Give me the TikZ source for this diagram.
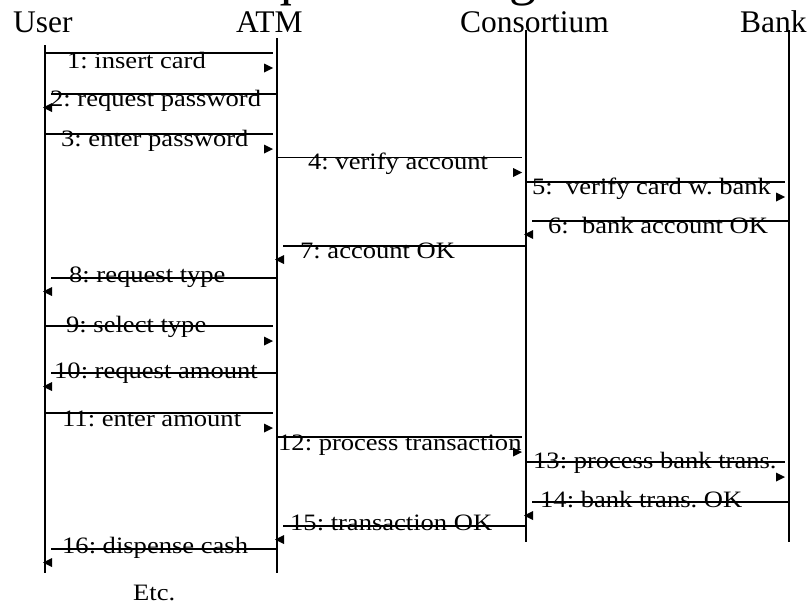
\documentclass[tikz,border=0pt]{standalone}
\usepackage{fontspec}
\setmainfont{Liberation Serif}
\newfontfamily\lblfont[FakeStretch=1.13]{Liberation Serif}
\usetikzlibrary{calc}

\tikzset{
  lifeline/.style={line width=1.8pt, line cap=butt},
  msgline/.style={line width=1.6pt},
  tipfill/.style={fill=black},
  header/.style={anchor=base west, inner sep=0pt, font=\fontsize{31.5}{36}\selectfont},
  lbl/.style={anchor=base west, inner sep=0pt, font={\lblfont\fontsize{23.5}{28}\selectfont\frenchspacing}},
}

% #1 sender, #2 receiver, #3 height of the line, #4 label x, #5 label baseline, #6 label, #7 number
\newcommand\callright[7]{%
  \path (0,#3) coordinate (m#7);
  \draw[msgline] (#1 |- m#7) -- ($(#2 |- m#7)+(-4,0)$);
  \fill[tipfill] ($(#2 |- m#7)+(-4,15)$) -- ++(-9,4.5) -- ++(0,-9) -- cycle;
  \node[lbl] (lbl#7) at (#4,#5) {#6};
}
\newcommand\callleft[7]{%
  \path (0,#3) coordinate (m#7);
  \draw[msgline] (#1 |- m#7) -- ($(#2 |- m#7)+(6,0)$);
  \fill[tipfill] ($(#2 |- m#7)+(-2,13.5)$) -- ++(9,-4.5) -- ++(0,9) -- cycle;
  \node[lbl] (lbl#7) at (#4,#5) {#6};
}

\begin{document}
\begin{tikzpicture}[x=1pt, y=-1pt]
\useasboundingbox (0,0) rectangle (811,605);

% title, running off the top edge
\node[anchor=base west, inner sep=0pt, font=\fontsize{54}{60}\selectfont] (title) at (211,-5.5) {Sequence Diagram};

% objects
\node[header] (hUser) at (13,32) {User};
\node[header] (hATM) at (236,32) {ATM};
\node[header] (hCons) at (460,32) {Consortium};
\node[header] (hBank) at (740,32) {Bank};

\coordinate (user) at (45,45);
\coordinate (atm) at (277,38);
\coordinate (cons) at (526,30);
\coordinate (bank) at (789,30);
\coordinate (userEnd) at (45,573);
\coordinate (atmEnd) at (277,573);
\coordinate (consEnd) at (526,542);
\coordinate (bankEnd) at (789,542);

\draw[lifeline] (user) -- (userEnd);
\draw[lifeline] (atm) -- (atmEnd);
\draw[lifeline] (cons) -- (consEnd);
\draw[lifeline] (bank) -- (bankEnd);

% messages
\callright{user}{atm}{53}{67}{68}{1: insert card}{1}
\callleft{atm}{user}{94}{50}{106}{2: request password}{2}
\callright{user}{atm}{134}{61}{146}{3: enter password}{3}
\callright{atm}{cons}{157.5}{308}{169}{4: verify account}{4}
\callright{cons}{bank}{182}{532}{194}{5:\ \ verify card w. bank}{5}
\callleft{bank}{cons}{221}{548}{233}{6:\ \ bank account OK}{6}
\callleft{cons}{atm}{246}{300}{258}{7: account OK}{7}
\callleft{atm}{user}{278}{69}{282}{8: request type}{8}
\callright{user}{atm}{326}{66}{332}{9: select type}{9}
\callleft{atm}{user}{373}{54}{378}{10: request amount}{10}
\callright{user}{atm}{413}{62}{426}{11: enter amount}{11}
\callright{atm}{cons}{437}{278}{450}{12: process transaction}{12}
\callright{cons}{bank}{462}{533}{468}{13: process bank trans.}{13}
\callleft{bank}{cons}{502}{540}{507}{14: bank trans. OK}{14}
\callleft{cons}{atm}{526}{290}{530}{15: transaction OK}{15}
\callleft{atm}{user}{549}{62}{553}{16: dispense cash}{16}

\node[lbl] (etc) at (133,600) {Etc.};
\end{tikzpicture}
\end{document}
